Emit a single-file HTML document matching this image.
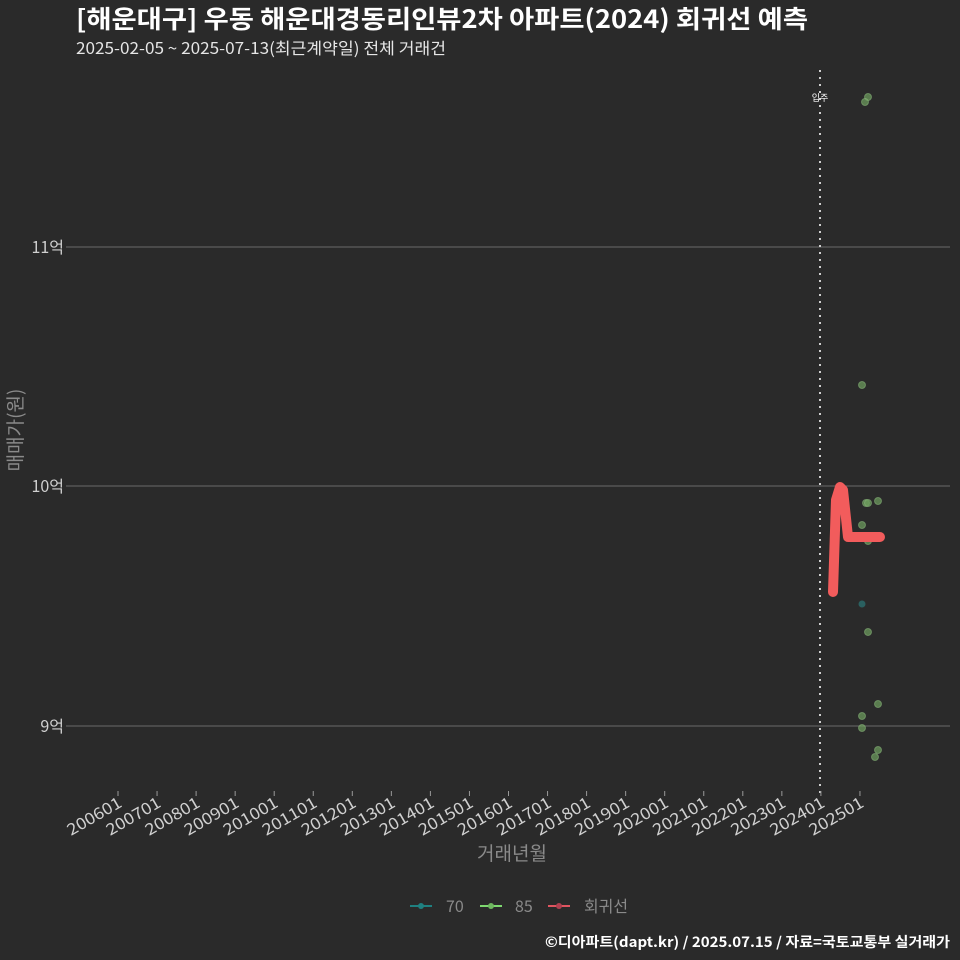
<!DOCTYPE html>
<html><head><meta charset="utf-8"><style>
html,body{margin:0;padding:0;background:#2a2a2a;}
svg{display:block;font-family:"Noto Sans CJK KR","Liberation Sans",sans-serif;}
</style></head><body>
<svg width="960" height="960" xmlns="http://www.w3.org/2000/svg">
<rect width="960" height="960" fill="#2a2a2a"/>
<text x="76" y="28" font-size="25" font-weight="bold" fill="#ffffff" textLength="732" lengthAdjust="spacingAndGlyphs">[해운대구] 우동 해운대경동리인뷰2차 아파트(2024) 회귀선 예측</text>
<text x="76" y="54" font-size="16" fill="#e6e6e6" textLength="370" lengthAdjust="spacingAndGlyphs">2025-02-05 ~ 2025-07-13(최근계약일) 전체 거래건</text>
<g stroke="#6a6a6a" stroke-width="1">
<line x1="72" y1="247" x2="950" y2="247"/><line x1="72" y1="486" x2="950" y2="486"/><line x1="72" y1="726" x2="950" y2="726"/>
<line x1="66" y1="247" x2="72" y2="247"/><line x1="66" y1="486" x2="72" y2="486"/><line x1="66" y1="726" x2="72" y2="726"/>
</g>
<g font-size="16" fill="#d0d0d0" text-anchor="end">
<text x="64" y="253">11억</text><text x="64" y="492">10억</text><text x="64" y="732">9억</text>
</g>
<text transform="translate(22,430) rotate(-90)" font-size="19" fill="#8a8a8a" text-anchor="middle">매매가(원)</text>
<line x1="820" y1="70" x2="820" y2="794" stroke="#d0d0d0" stroke-width="2" stroke-dasharray="2,5"/>
<text x="820" y="101" font-size="9" fill="#fff" text-anchor="middle">입주</text>
<g id="ticks" stroke="#999" stroke-width="1"></g>
<g fill="#6fa060" fill-opacity="0.7" stroke="#8fc080" stroke-opacity="0.5">
<circle cx="868" cy="97" r="3.5"/><circle cx="865" cy="102" r="3.5"/><circle cx="862" cy="385" r="3.5"/>
<circle cx="866" cy="503" r="3.5"/><circle cx="868" cy="503" r="3.5"/><circle cx="878" cy="501" r="3.5"/>
<circle cx="862" cy="525" r="3.5"/><circle cx="868" cy="541" r="3.5"/><circle cx="868" cy="632" r="3.5"/>
<circle cx="878" cy="704" r="3.5"/><circle cx="862" cy="716" r="3.5"/><circle cx="862" cy="728" r="3.5"/>
<circle cx="878" cy="750" r="3.5"/><circle cx="875" cy="757" r="3.5"/>
</g>
<circle cx="862" cy="604" r="3.5" fill="#2a6060"/>
<polyline points="833,592 836,500 840,487 843,490 848,537 880,537" fill="none" stroke="#f25c5c" stroke-width="10" stroke-linecap="round" stroke-linejoin="round"/>
<g id="xl" font-size="16" fill="#d0d0d0"></g>
<text x="512" y="860" font-size="19" fill="#8a8a8a" text-anchor="middle">거래년월</text>
<g font-size="16" fill="#8a8a8a">
<line x1="410" y1="906" x2="432" y2="906" stroke="#1f8080" stroke-width="2"/><circle cx="421" cy="906" r="3" fill="#1f8080"/>
<text x="446" y="912">70</text>
<line x1="480" y1="906" x2="502" y2="906" stroke="#7ed870" stroke-width="2"/><circle cx="491" cy="906" r="3" fill="#6fb860"/>
<text x="515" y="912">85</text>
<line x1="548" y1="906" x2="570" y2="906" stroke="#e05560" stroke-width="2"/><circle cx="559" cy="906" r="3" fill="#b04050"/>
<text x="584" y="912" textLength="44" lengthAdjust="spacingAndGlyphs">회귀선</text>
</g>
<text x="545" y="947" font-size="14" font-weight="bold" fill="#ffffff" textLength="405" lengthAdjust="spacingAndGlyphs">©디아파트(dapt.kr) / 2025.07.15 / 자료=국토교통부 실거래가</text>
<script>
var t=document.getElementById('ticks'),l=document.getElementById('xl'),ns='http://www.w3.org/2000/svg';
for(var i=0;i<20;i++){var x=118+i*39.05;
var ln=document.createElementNS(ns,'line');ln.setAttribute('x1',x);ln.setAttribute('x2',x);ln.setAttribute('y1',791);ln.setAttribute('y2',796);t.appendChild(ln);
var tx=document.createElementNS(ns,'text');tx.setAttribute('text-anchor','end');tx.setAttribute('textLength','60');tx.setAttribute('lengthAdjust','spacingAndGlyphs');tx.setAttribute('transform','translate('+(x+5)+',806) rotate(-30)');tx.textContent=(2006+i)+'01';l.appendChild(tx);}
</script>
</svg>
</body></html>
